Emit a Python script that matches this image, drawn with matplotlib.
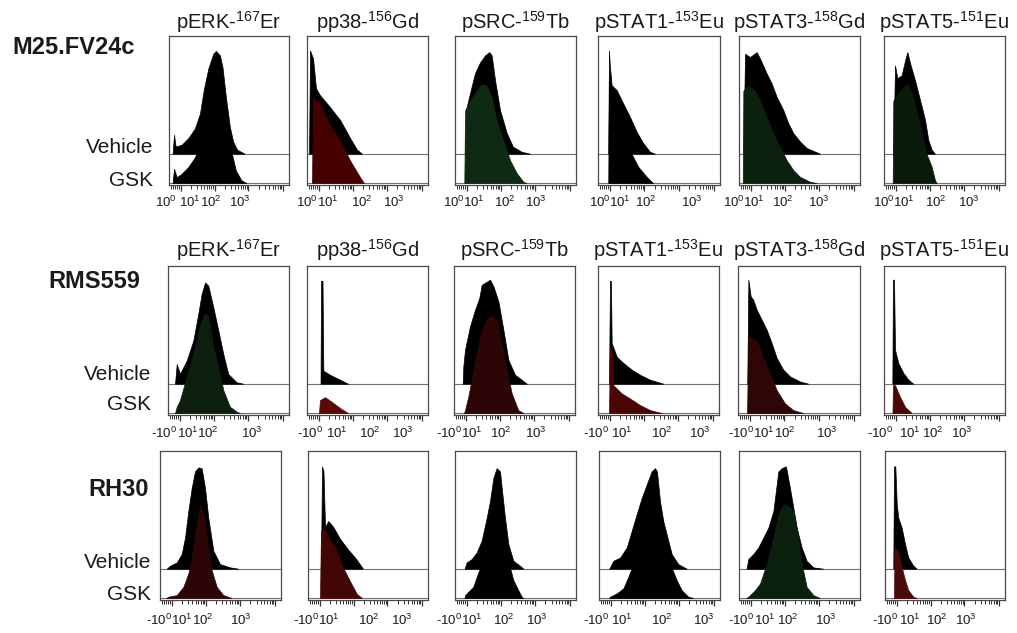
import math
import matplotlib
matplotlib.use('Agg')
import matplotlib.pyplot as plt

plt.rcParams['font.family'] = ['Liberation Sans', 'DejaVu Sans']
plt.rcParams['mathtext.fontset'] = 'custom'
plt.rcParams['mathtext.rm'] = 'Liberation Sans'
plt.rcParams['mathtext.it'] = 'Liberation Sans:italic'
plt.rcParams['mathtext.bf'] = 'Liberation Sans:bold'

# ---- data: channel position (% of axis) and mode-normalised height (% of panel) ----
cell_lines = ['M25.FV24c', 'RMS559', 'RH30']
markers = ['pERK-$^{167}$Er', 'pp38-$^{156}$Gd', 'pSRC-$^{159}$Tb',
           'pSTAT1-$^{153}$Eu', 'pSTAT3-$^{158}$Gd', 'pSTAT5-$^{151}$Eu']
conditions = ['Vehicle', 'GSK']

# M25.FV24c
m25_perk_veh_x = [3, 4.2, 5.5, 10.5, 16, 21.6, 25.8, 29, 32.7, 36.8, 39, 42.4, 44.6, 47.4, 50.7, 53.5, 56.8, 63]
m25_perk_veh_h = [0, 12.7, 4.9, 6, 10.4, 17, 27, 43, 57, 67, 69, 66, 58, 38, 18, 8, 2.7, 0]
m25_perk_gsk_x = [3, 4.2, 6.4, 10.5, 16, 21.6, 25.8, 29, 32.7, 36.8, 39.5, 42.9, 45.6, 49.2, 52.6, 55.7, 60.4, 64.5]
m25_perk_gsk_h = [0, 9.6, 4, 6.2, 10.7, 17.3, 26, 42, 57, 68, 69, 66, 57, 37, 19, 8.4, 1.8, 0]
m25_p38_veh_x = [1.7, 2.5, 5, 7.4, 10.7, 19, 27.3, 35.5, 41.3, 45.5]
m25_p38_veh_h = [0, 69.3, 64, 44, 39.3, 31.3, 22.7, 10.7, 2.7, 0]
m25_p38_gsk_x = [4.1, 5, 10.7, 19, 27.3, 35.5, 43.8, 47.1]
m25_p38_gsk_h = [0, 57.3, 53.3, 38.7, 28.7, 15.3, 4, 0]
m25_src_veh_x = [8.3, 9.1, 12.4, 16.5, 20.7, 24.8, 28.3, 30.3, 33.1, 37.2, 42.7, 47.9, 55.1, 62.0]
m25_src_veh_h = [0, 29.3, 40.7, 54, 61.3, 66, 68.2, 66, 49.3, 29.3, 14, 4.7, 1.3, 0]
m25_src_gsk_x = [7.7, 8.3, 12.4, 17.9, 22, 26.2, 30.3, 34.4, 39.9, 45.5, 51, 56.5, 59.2]
m25_src_gsk_h = [0, 48.7, 55.3, 62, 66.5, 65.3, 57.5, 42, 28.7, 15.3, 6.7, 0.9, 0]
m25_stat1_veh_x = [8.4, 9.0, 9.6, 11.2, 15.3, 20.5, 26.2, 31.7, 36.9, 42.6, 46.7]
m25_stat1_veh_h = [0, 69.3, 60, 46, 42.7, 34, 24.7, 14.7, 7.3, 1.3, 0]
m25_stat1_gsk_x = [8.4, 9.0, 11.5, 15.6, 20.5, 27.6, 33.0, 39.9, 45.1]
m25_stat1_gsk_h = [0, 68.7, 45.3, 42, 34, 19.5, 10.9, 4.2, 0]
m25_stat3_veh_x = [3.6, 5.0, 9.1, 14.6, 17.4, 22.9, 27.0, 31.1, 36.6, 40.7, 44.9, 50.4, 55.9, 67.0]
m25_stat3_veh_h = [0, 67.1, 64.9, 68.2, 63.8, 53.8, 47.1, 38.2, 29.3, 20.5, 13.8, 8.2, 3.8, 0]
m25_stat3_gsk_x = [3.1, 3.6, 7.7, 13.2, 17.4, 22.9, 28.4, 33.9, 39.4, 44.9, 50.4, 58.7, 64.2]
m25_stat3_gsk_h = [0, 62, 65.3, 62, 55.3, 44.2, 33.1, 24.2, 15.3, 8.7, 4.2, 0.9, 0]
m25_stat5_veh_x = [7.7, 9.1, 11.0, 14.6, 17.4, 19.3, 21.5, 25.6, 29.8, 33.9, 36.6, 39.4, 42.1]
m25_stat5_veh_h = [0, 59.3, 50.7, 52.7, 62.7, 68.2, 60.9, 49.3, 36, 22.7, 9.3, 2.7, 0]
m25_stat5_gsk_x = [7.2, 7.7, 13.2, 19.0, 23.1, 28.1, 35.3, 39.4, 42.1, 43.5]
m25_stat5_gsk_h = [0, 55.3, 62, 66.7, 60.7, 45.3, 19.3, 10.9, 2, 0]

# RMS559
rms_perk_veh_x = [5.8, 7.2, 9.9, 15.4, 20.9, 25.0, 27.8, 30.6, 33.3, 37.5, 41.6, 45.7, 49.8, 56.8, 62.2]
rms_perk_veh_h = [0, 13.2, 6.7, 15.4, 28.9, 46.8, 60.2, 68, 65.8, 51.2, 35.6, 19.9, 6.5, 0.9, 0]
rms_perk_gsk_x = [5.8, 7.2, 9.9, 15.4, 20.9, 26.4, 30.6, 33.1, 37.5, 41.6, 45.7, 51.2, 56.8, 59.5]
rms_perk_gsk_h = [0, 4.2, 8.7, 24.4, 40.1, 59.1, 66.9, 65.8, 44.5, 31.1, 15.4, 4.2, 0.9, 0]
rms_p38_veh_x = [11.2, 11.6, 12.8, 13.5, 19.0, 27.3, 33.9]
rms_p38_veh_h = [0, 69.1, 69.1, 8.7, 6.0, 2.7, 0]
rms_p38_gsk_x = [9.9, 10.7, 14.9, 20.7, 27.3, 33.9]
rms_p38_gsk_h = [0, 8.7, 10.7, 7.4, 3.4, 0]
rms_src_veh_x = [7.2, 7.7, 9.1, 13.2, 17.4, 20.9, 22.9, 29.8, 32.6, 36.7, 40.8, 44.9, 50.4, 55.9, 60.1]
rms_src_veh_h = [0, 11.6, 22.8, 38.5, 49.7, 57.5, 66.4, 69.8, 65.3, 55.2, 36.2, 16.1, 6.0, 2.7, 0]
rms_src_gsk_x = [8.3, 9.1, 11.8, 16.0, 21.5, 25.6, 29.8, 35.3, 39.4, 43.6, 47.7, 53.1, 57.3]
rms_src_gsk_h = [0, 2, 10.9, 28.9, 51.2, 61, 65.8, 62.4, 46.8, 28.9, 13.2, 2, 0]
rms_stat1_veh_x = [9.1, 9.9, 10.7, 11.3, 15.5, 21.0, 27.9, 34.7, 43.0, 54.0]
rms_stat1_veh_h = [0, 69.1, 69, 27.3, 18.1, 13.9, 9.4, 6, 2.7, 0]
rms_stat1_gsk_x = [9.1, 9.9, 11.2, 12.6, 19.6, 26.4, 34.7, 43.0, 52.9]
rms_stat1_gsk_h = [0, 44.5, 42, 18.8, 13.2, 9.8, 5.4, 2.0, 0]
rms_stat3_veh_x = [7.6, 8.5, 10.4, 12.5, 15.3, 19.4, 23.5, 27.6, 31.7, 37.1, 42.6, 50.8, 57.6]
rms_stat3_veh_h = [0, 69.8, 58.6, 56.4, 49.7, 43, 36.2, 27.3, 17.3, 9.4, 4.9, 1.5, 0]
rms_stat3_gsk_x = [7.4, 8.5, 15.3, 20.7, 26.2, 31.7, 38.5, 45.3, 53.5]
rms_stat3_gsk_h = [0, 51.2, 49, 37.8, 26.6, 15.4, 6.5, 2, 0]
rms_stat5_veh_x = [6.9, 7.4, 8.3, 9.1, 11.8, 16.0, 20.2, 24.2]
rms_stat5_veh_h = [0, 69.8, 69.8, 22.8, 13.9, 7.2, 2.7, 0]
rms_stat5_gsk_x = [7.0, 7.4, 9.1, 13.2, 17.4, 22.9]
rms_stat5_gsk_h = [0, 18.8, 18.8, 10.9, 4.2, 0]

# RH30
rh30_perk_veh_x = [5.5, 8.3, 13.8, 17.9, 20.7, 23.4, 26.2, 28.9, 31.7, 34.4, 37.2, 39.9, 44.1, 49.6, 57.9, 64.7]
rh30_perk_veh_h = [0, 2, 4.2, 9.8, 20.9, 38.7, 54.2, 65.3, 68, 67.5, 54.2, 34.2, 12, 3.1, 0.9, 0]
rh30_perk_gsk_x = [5.0, 6.9, 13.8, 19.3, 23.4, 26.2, 28.9, 33.1, 37.2, 39.9, 42.7, 46.9, 52.3, 59.3]
rh30_perk_gsk_h = [0, 0.9, 2, 7.5, 16.5, 27.5, 43.1, 63.1, 52, 32, 18.7, 7.5, 2, 0]
rh30_p38_veh_x = [10.8, 11.7, 12.9, 14.2, 16.9, 21.1, 26.7, 33.3, 40.0, 45.8]
rh30_p38_veh_h = [0, 68.7, 65.3, 28, 32, 28, 20, 13, 6.7, 0]
rh30_p38_gsk_x = [10, 10.8, 14.2, 18.3, 23.3, 28.3, 32.5, 36.7, 40.8, 45.0]
rh30_p38_gsk_h = [0, 45.3, 46, 38.7, 33.3, 22, 15.3, 8.7, 2.7, 0]
rh30_src_veh_x = [7.9, 8.3, 9.6, 13.8, 17.9, 22.0, 26.2, 28.9, 31.7, 34.4, 37.2, 38.6, 41.3, 44.1, 48.2, 53.7, 56.5]
rh30_src_veh_h = [0, 0.9, 4.2, 6.5, 10.9, 18.7, 34.2, 45.3, 60.9, 67.5, 65.3, 54.2, 34.2, 16.5, 5.3, 2, 0]
rh30_src_gsk_x = [7.9, 8.3, 11.0, 15.1, 17.9, 20.7, 26.2, 31.7, 34.7, 38.6, 42.1, 45.5, 48.2, 52.3, 55.1, 56.5]
rh30_src_gsk_h = [0, 2, 4.2, 7.5, 14.2, 20.2, 35.3, 58.7, 67.3, 55.3, 35.3, 20.2, 12, 5.3, 0.9, 0]
rh30_stat1_veh_x = [8.3, 9.1, 11.8, 17.4, 22.9, 27.0, 31.1, 35.3, 39.4, 43.5, 46.3, 47.9, 50.4, 53.1, 55.9, 60.1, 65.5, 72.5]
rh30_stat1_veh_h = [0, 0.9, 5.3, 7.5, 14.2, 25.3, 36.5, 47.5, 56.5, 65.3, 67.5, 65.3, 45.3, 32, 23.1, 9.8, 3.1, 0]
rh30_stat1_gsk_x = [8.3, 9.1, 14.6, 20.1, 24.2, 27.0, 33.9, 40.5, 46.3, 50.4, 55.4, 60.1, 64.2, 68.3, 73.8, 77.9]
rh30_stat1_gsk_h = [0, 0.9, 3.1, 6.5, 14.2, 20.2, 38.7, 55.3, 65.3, 62, 38.7, 20.2, 12, 5.3, 0.9, 0]
rh30_stat3_veh_x = [6.2, 7.7, 11.8, 15.9, 20.1, 24.2, 28.4, 32.5, 35.3, 38.8, 42.1, 44.9, 47.7, 51.8, 55.9, 61.4, 69.7]
rh30_stat3_veh_h = [0, 6.5, 9.8, 14.2, 20.9, 27.5, 38.7, 65.3, 67.5, 68.7, 54.2, 40.9, 27.5, 14.2, 5.3, 0.9, 0]
rh30_stat3_gsk_x = [5.8, 7.7, 13.2, 17.4, 22.9, 28.4, 32.2, 36.6, 40.5, 44.9, 49.0, 51.8, 55.9, 61.4, 66.9]
rh30_stat3_gsk_h = [0, 0.9, 5.3, 9.8, 23.1, 40.9, 55.3, 63.1, 62, 58.7, 40.9, 23.1, 7.5, 2, 0]
rh30_stat5_veh_x = [6.9, 7.5, 8.6, 9.8, 11.1, 13.9, 16.7, 19.4, 23.6, 26.4]
rh30_stat5_veh_h = [0, 68.7, 68.7, 43.1, 34.2, 27.5, 16.5, 7.5, 2, 0]
rh30_stat5_gsk_x = [7.5, 7.9, 11.1, 13.9, 16.7, 19.4, 23.6, 26.4]
rh30_stat5_gsk_h = [0, 34.2, 30.9, 20.9, 12, 5.3, 0.9, 0]

# GSK fill colours per panel
m25_gsk_colors = ['black', '#450000', '#0f2a12', 'black', '#0c200e', '#0a1a0b']
rms_gsk_colors = ['#0c1f0e', '#5a0808', '#2c0606', '#4a0404', '#2e0606', '#4a0808']
rh30_gsk_colors = ['#2c0606', '#420606', 'black', 'black', '#0c200e', '#4a0a0a']

# decade label positions on each axis (% of axis width)
m25_decades = [[-3, 17.5, 35, 59], [0, 17, 45, 72], [-1, 15.5, 41, 67],
               [1.5, 18, 39, 77], [-4.5, 12, 36, 66], [-0.5, 16, 43, 70]]
rms_decades = [[-3, 16, 32.5, 69], [2.5, 25, 52, 79], [-4, 15, 39, 68],
               [-2, 20, 53, 84], [2.5, 21.5, 38.5, 73], [-3, 21, 40, 64]]
rh30_decades = [[-1, 18, 35, 67], [-1.5, 17.5, 51, 78], [-5, 14, 40, 68],
                [-2.5, 19, 52, 87], [2, 21, 40, 72], [0, 21, 43, 67]]
pos_labels = ['$10^0$', '$10^1$', '$10^2$', '$10^3$']
neg_labels = ['-$10^0$', '$10^1$', '$10^2$', '$10^3$']

rows = [
    dict(name=cell_lines[0], labels=pos_labels, decades=m25_decades, colors=m25_gsk_colors,
         veh=[(m25_perk_veh_x, m25_perk_veh_h), (m25_p38_veh_x, m25_p38_veh_h),
              (m25_src_veh_x, m25_src_veh_h), (m25_stat1_veh_x, m25_stat1_veh_h),
              (m25_stat3_veh_x, m25_stat3_veh_h), (m25_stat5_veh_x, m25_stat5_veh_h)],
         gsk=[(m25_perk_gsk_x, m25_perk_gsk_h), (m25_p38_gsk_x, m25_p38_gsk_h),
              (m25_src_gsk_x, m25_src_gsk_h), (m25_stat1_gsk_x, m25_stat1_gsk_h),
              (m25_stat3_gsk_x, m25_stat3_gsk_h), (m25_stat5_gsk_x, m25_stat5_gsk_h)]),
    dict(name=cell_lines[1], labels=neg_labels, decades=rms_decades, colors=rms_gsk_colors,
         veh=[(rms_perk_veh_x, rms_perk_veh_h), (rms_p38_veh_x, rms_p38_veh_h),
              (rms_src_veh_x, rms_src_veh_h), (rms_stat1_veh_x, rms_stat1_veh_h),
              (rms_stat3_veh_x, rms_stat3_veh_h), (rms_stat5_veh_x, rms_stat5_veh_h)],
         gsk=[(rms_perk_gsk_x, rms_perk_gsk_h), (rms_p38_gsk_x, rms_p38_gsk_h),
              (rms_src_gsk_x, rms_src_gsk_h), (rms_stat1_gsk_x, rms_stat1_gsk_h),
              (rms_stat3_gsk_x, rms_stat3_gsk_h), (rms_stat5_gsk_x, rms_stat5_gsk_h)]),
    dict(name=cell_lines[2], labels=neg_labels, decades=rh30_decades, colors=rh30_gsk_colors,
         veh=[(rh30_perk_veh_x, rh30_perk_veh_h), (rh30_p38_veh_x, rh30_p38_veh_h),
              (rh30_src_veh_x, rh30_src_veh_h), (rh30_stat1_veh_x, rh30_stat1_veh_h),
              (rh30_stat3_veh_x, rh30_stat3_veh_h), (rh30_stat5_veh_x, rh30_stat5_veh_h)],
         gsk=[(rh30_perk_gsk_x, rh30_perk_gsk_h), (rh30_p38_gsk_x, rh30_p38_gsk_h),
              (rh30_src_gsk_x, rh30_src_gsk_h), (rh30_stat1_gsk_x, rh30_stat1_gsk_h),
              (rh30_stat3_gsk_x, rh30_stat3_gsk_h), (rh30_stat5_gsk_x, rh30_stat5_gsk_h)]),
]

# ---- layout (pixels) ----
W, H = 1017, 633
BASE, OFFSET = 1.3, 21.0
row_boxes = [
    (36, 185, [(169, 289), (307, 428), (455, 576), (598, 720), (739, 860), (884, 1005)]),
    (266, 415, [(168, 289), (307, 428), (454, 575), (598, 719), (738, 860), (884, 1005)]),
    (451, 600, [(160, 281), (308, 428), (455, 576), (599, 720), (739, 860), (885, 1005)]),
]
title_y = [22, 250, None]
row_label_xy = [(12, 47), (48, 282), (88, 490)]
cond_xy = [(153, 147, 180), (151, 375, 405), (151, 563, 595)]
ticklab_dy = [17, 18, 20]

# FlowJo-like tick marks: a linear block then log minor ticks per decade
tick_decades = [10, 38, 66, 95]
minor_ticks = [2, 3.5, 5, 6.5, 8]
for a, b in zip(tick_decades[:-1], tick_decades[1:]):
    for m in range(2, 10):
        minor_ticks.append(a + (b - a) * math.log10(m))

fig = plt.figure(figsize=(W / 100, H / 100), dpi=100)

for r, row in enumerate(rows):
    top, bot, cols = row_boxes[r]
    for c, (left, right) in enumerate(cols):
        ax = fig.add_axes([left / W, 1 - bot / H, (right - left) / W, (bot - top) / H])
        ax.set_xlim(0, 100)
        ax.set_ylim(0, 100)
        ax.axhline(OFFSET, color='#707070', lw=0.8, zorder=1)
        ax.axhline(BASE, color='#707070', lw=0.8, zorder=1)
        vx, vh = row['veh'][c]
        ax.fill_between(vx, OFFSET, [OFFSET + h for h in vh], color='black', lw=0.5, zorder=2)
        gx, gh = row['gsk'][c]
        ax.fill_between(gx, BASE, [BASE + h for h in gh], color=row['colors'][c], lw=0.5,
                        zorder=3)

        for s in ax.spines.values():
            s.set_color('#4a4a4a')
            s.set_linewidth(0.9)
        ax.set_yticks([])
        ax.set_xticks(tick_decades)
        ax.set_xticks(minor_ticks, minor=True)
        ax.tick_params(axis='x', which='major', length=4.5, width=0.9, color='#333333',
                       labelbottom=False)
        ax.tick_params(axis='x', which='minor', length=2.8, width=0.7, color='#333333')

        dy = -ticklab_dy[r] / (bot - top)
        for xd, lab in zip(row['decades'][c], row['labels']):
            ax.text(xd, dy, lab, transform=ax.get_xaxis_transform(), ha='center',
                    va='center', fontsize=9.5, color='#1a1a1a', clip_on=False)

        if title_y[r] is not None:
            fig.text((left + right) / 2 / W, 1 - title_y[r] / H, markers[c], ha='center',
                     va='center', fontsize=14.5, color='#1a1a1a')

    lx, ly = row_label_xy[r]
    fig.text(lx / W, 1 - ly / H, row['name'], ha='left', va='center', fontsize=17,
             fontweight='bold', color='#1a1a1a')
    cx, vy, gy = cond_xy[r]
    fig.text(cx / W, 1 - vy / H, conditions[0], ha='right', va='center', fontsize=15,
             color='#1a1a1a')
    fig.text(cx / W, 1 - gy / H, conditions[1], ha='right', va='center', fontsize=15,
             color='#1a1a1a')

fig.savefig('out.png', dpi=100, facecolor='white')
